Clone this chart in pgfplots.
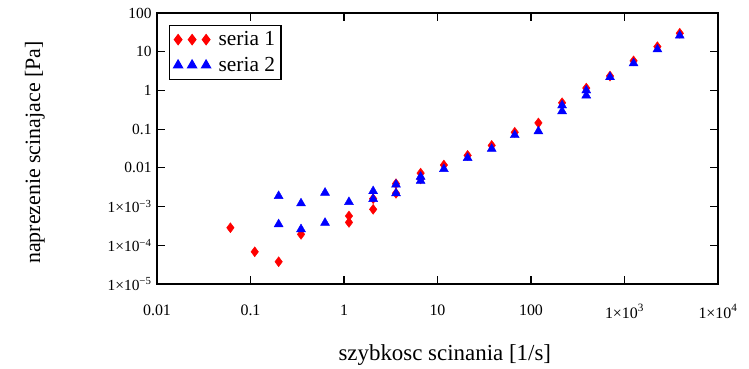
\documentclass[border=0pt]{standalone}
\usepackage{fontspec}
\setmainfont{Liberation Serif}
\usepackage{pgfplots}
\pgfplotsset{compat=1.18}
\newcommand{\lgfont}{\fontsize{21.5}{24}\selectfont}
\begin{document}
\begin{tikzpicture}
\begin{axis}[
  xmode=log, ymode=log,
  scale only axis, width=561bp, height=271bp,
  xmin=0.01, xmax=10000, ymin=1e-5, ymax=100,
  xtick={0.01,0.1,1,10,100,1000,10000},
  xticklabels={0.01,0.1,1,10,100,1×10\textsuperscript{3},1×10\textsuperscript{4}},
  ytick={1e-5,1e-4,1e-3,0.01,0.1,1,10,100},
  yticklabels={1×10\textsuperscript{−5},1×10\textsuperscript{−4},1×10\textsuperscript{−3},0.01,0.1,1,10,100},
  minor tick length=0pt,
  tick align=inside, major tick length=8bp,
  axis line style={line width=1.2bp},
  every tick/.style={black, line width=1.2bp},
  xticklabel style={font=\fontsize{16}{18}\selectfont, yshift=-17bp},
  yticklabel style={font=\fontsize{15.5}{18}\selectfont, xshift=-2bp},
  xlabel={szybkosc scinania [1/s]},
  ylabel={naprezenie scinajace [Pa]},
  xlabel style={font=\fontsize{23}{26}\selectfont, at={(axis description cs:0.513,-0.262)}, anchor=center},
  ylabel style={font=\fontsize{22}{26}\selectfont, at={(axis description cs:-0.2175,0.485)}, anchor=center},
  legend style={at={(axis description cs:0.0214,0.955)}, anchor=north west,
    draw=black, line width=1.2bp, font=\lgfont,
    row sep=6bp, inner xsep=4bp, inner ysep=4bp},
  legend cell align=left,
  legend image code/.code={\draw[#1,mark repeat=1,mark phase=1] plot coordinates {(-2bp,0bp) (12bp,0bp) (26bp,0bp)};},
]
\addplot[only marks, mark=diamond*, mark size=5bp, color=red] coordinates {
(0.061,2.84e-4) (0.111,6.8e-5) (0.2,3.76e-5) (0.347,1.92e-4)
(1.13,5.7e-4) (1.13,3.9e-4) (2.05,8.5e-4) (2.05,1.6e-3)
(3.6,3.9e-3) (3.6,2.2e-3) (6.6,7.3e-3) (6.6,5.2e-3)
(11.7,0.0118) (21,0.021) (38,0.038) (67,0.083) (120,0.145)
(215,0.48) (390,1.15) (700,2.35) (1250,5.8) (2250,13.5) (3900,30)
};
\addlegendentry{\hspace{6bp}\lgfont seria 1}
\addplot[only marks, mark=triangle*, mark size=5.2bp, color=blue] coordinates {
(0.2,1.87e-3) (0.2,3.5e-4) (0.347,1.21e-3) (0.347,2.6e-4)
(0.627,2.28e-3) (0.627,3.8e-4) (1.13,1.31e-3)
(2.05,2.5e-3) (2.05,1.57e-3) (3.6,3.7e-3) (3.6,2.2e-3)
(6.6,5.9e-3) (6.6,4.6e-3) (11.7,9.3e-3) (21,0.018) (38,0.031)
(67,0.07) (120,0.088) (215,0.41) (215,0.29) (390,1.0) (390,0.74)
(700,2.2) (1250,5.0) (2250,11.5) (3900,26)
};
\addlegendentry{\hspace{6bp}\lgfont seria 2}
\end{axis}
\path ([xshift=-157bp,yshift=-82bp]current axis.south west) rectangle ([xshift=31bp,yshift=13bp]current axis.north east);
\end{tikzpicture}
\end{document}
